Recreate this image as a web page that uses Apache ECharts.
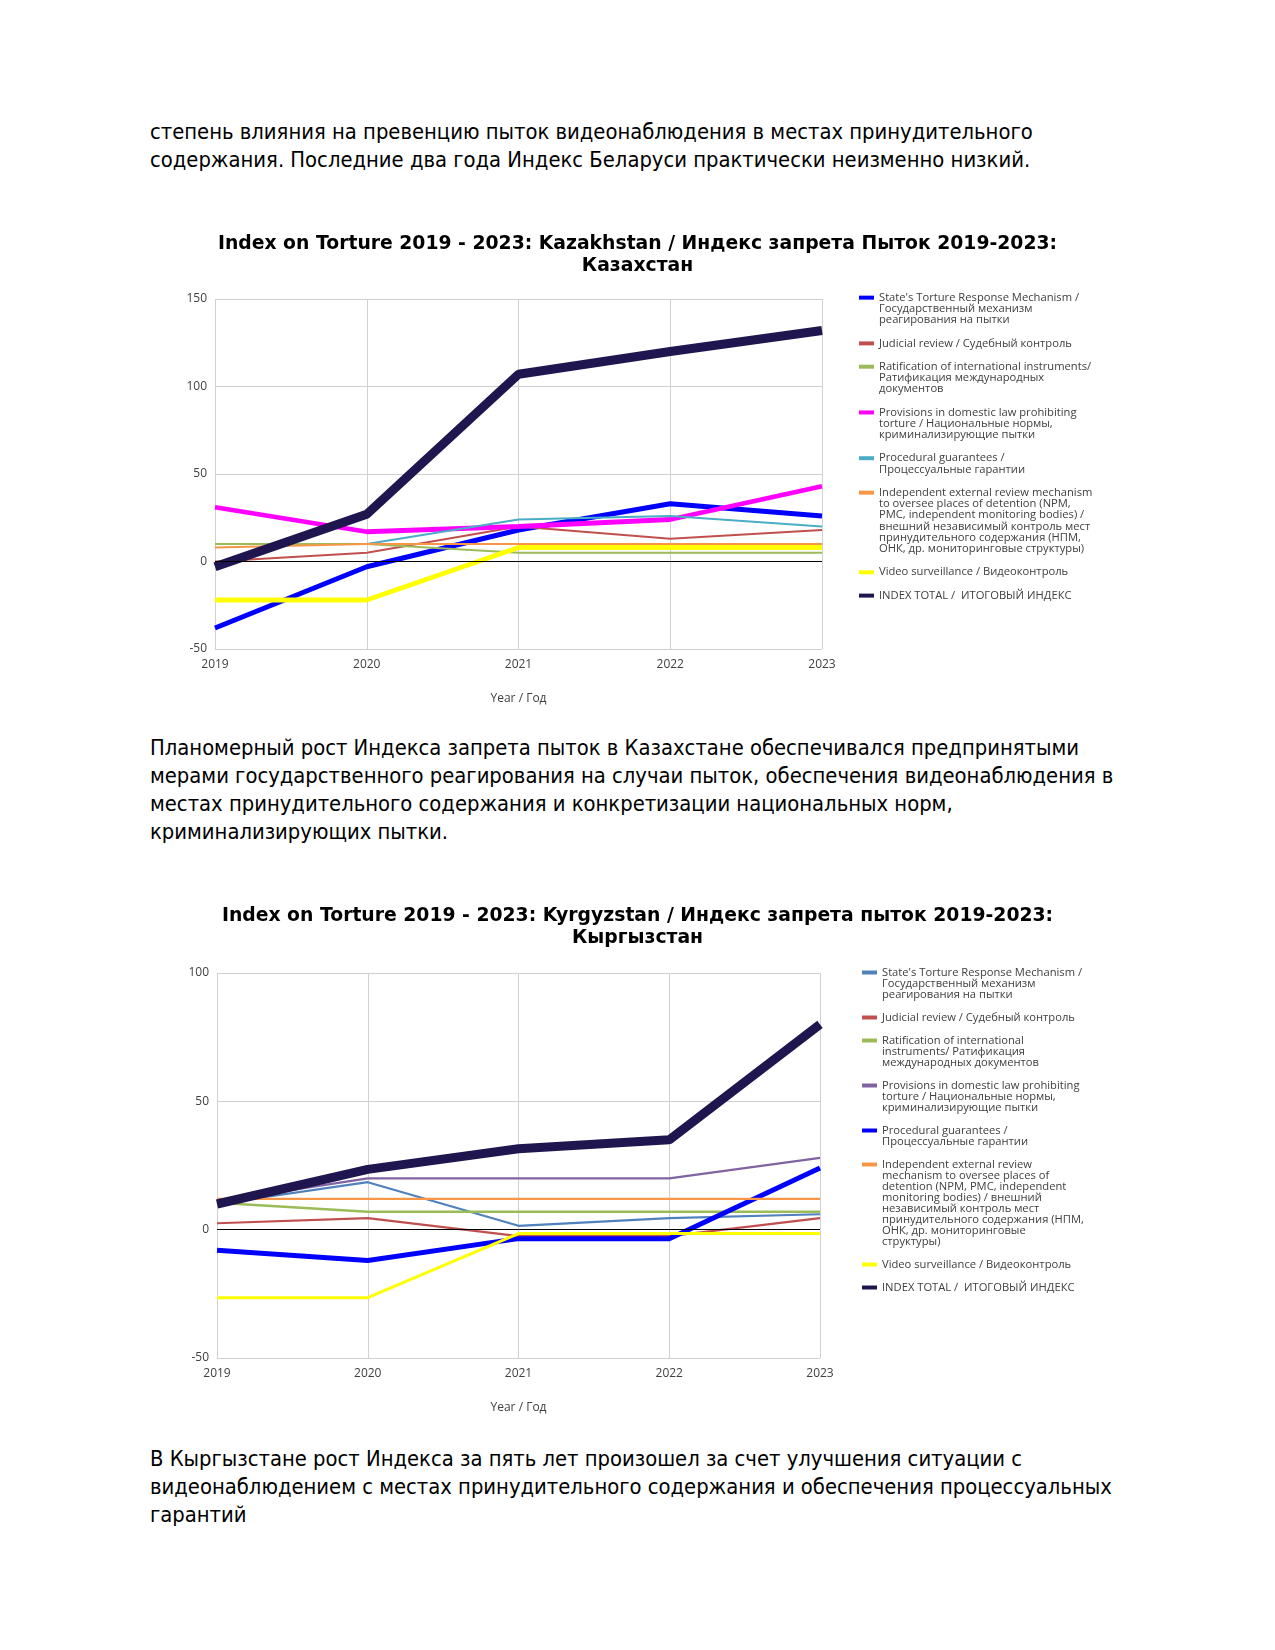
<!DOCTYPE html>
<html>
<head>
<meta charset="utf-8">
<script src="https://cdn.jsdelivr.net/npm/echarts@6/dist/echarts.min.js"></script>
<style>
  html, body { margin: 0; padding: 0; background: #fff; }
  body { width: 1275px; height: 1650px; position: relative; overflow: hidden; }
  .para { position: absolute; left: 150px; font-family: "Liberation Sans Narrow", "Arial Narrow", "DejaVu Sans Condensed", sans-serif; font-size: 21.8px; line-height: 28px; color: #000; white-space: nowrap; }
  .chart { position: absolute; left: 0; width: 1275px; }
</style>
</head>
<body>
<div class="para" style="top:118px;">степень влияния на превенцию пыток видеонаблюдения в местах принудительного<br>содержания. Последние два года Индекс Беларуси практически неизменно низкий.</div>
<div id="c1" class="chart" style="top:190px;height:540px;"></div>
<div class="para" style="top:734px;">Планомерный рост Индекса запрета пыток в Казахстане обеспечивался предпринятыми<br>мерами государственного реагирования на случаи пыток, обеспечения видеонаблюдения в<br>местах принудительного содержания и конкретизации национальных норм,<br>криминализирующих пытки.</div>
<div id="c2" class="chart" style="top:860px;height:570px;"></div>
<div class="para" style="top:1445px;">В Кыргызстане рост Индекса за пять лет произошел за счет улучшения ситуации с<br>видеонаблюдением с местах принудительного содержания и обеспечения процессуальных<br>гарантий</div>
<script>
// ---------- shared ----------
const years = ['2019', '2020', '2021', '2022', '2023'];
const yTicksKz = [-50, 0, 50, 100, 150];
const yTicksKg = [-50, 0, 50, 100];

// ---------- Kazakhstan ----------
const kzTitle = 'Index on Torture 2019 - 2023: Kazakhstan / Индекс запрета Пыток 2019-2023:\nКазахстан';
const kzNames = [
  "State's Torture Response Mechanism /\nГосударственный механизм\nреагирования на пытки",
  "Judicial review / Судебный контроль",
  "Ratification of international instruments/\nРатификация международных\nдокументов",
  "Provisions in domestic law prohibiting\ntorture / Национальные нормы,\nкриминализирующие пытки",
  "Procedural guarantees /\nПроцессуальные гарантии",
  "Independent external review mechanism\nto oversee places of detention (NPM,\nPMC, independent monitoring bodies) /\nвнешний независимый контроль мест\nпринудительного содержания (НПМ,\nОНК, др. мониторинговые структуры)",
  "Video surveillance / Видеоконтроль",
  "INDEX TOTAL /  ИТОГОВЫЙ ИНДЕКС"
];
const kzColors = ['#0000ff', '#c0504d', '#9bbb59', '#ff00ff', '#4bacc6', '#f79646', '#ffff00', '#20164f'];
const kzWidths = [5, 2, 2.2, 4.8, 2, 2.2, 5, 9];
const kzState      = [-38, -3, 18, 33, 26];
const kzJudicial   = [0, 5, 20, 13, 18];
const kzRatif      = [10, 10, 5, 5, 5];
const kzProvisions = [31, 17, 20, 24, 43];
const kzProcedural = [null, 10, 24, 26, 20];
const kzIndependent= [8, 10, 10, 10, 10];
const kzVideo      = [-22, -22, 8, 8, 8];
const kzTotal      = [-3, 27, 107, 120, 132];
const kzData = [kzState, kzJudicial, kzRatif, kzProvisions, kzProcedural, kzIndependent, kzVideo, kzTotal];

// ---------- Kyrgyzstan ----------
const kgTitle = 'Index on Torture 2019 - 2023: Kyrgyzstan / Индекс запрета пыток 2019-2023:\nКыргызстан';
const kgNames = [
  "State's Torture Response Mechanism /\nГосударственный механизм\nреагирования на пытки",
  "Judicial review / Судебный контроль",
  "Ratification of international\ninstruments/ Ратификация\nмеждународных документов",
  "Provisions in domestic law prohibiting\ntorture / Национальные нормы,\nкриминализирующие пытки",
  "Procedural guarantees /\nПроцессуальные гарантии",
  "Independent external review\nmechanism to oversee places of\ndetention (NPM, PMC, independent\nmonitoring bodies) / внешний\nнезависимый контроль мест\nпринудительного содержания (НПМ,\nОНК, др. мониторинговые\nструктуры)",
  "Video surveillance / Видеоконтроль",
  "INDEX TOTAL /  ИТОГОВЫЙ ИНДЕКС"
];
const kgColors = ['#4f81bd', '#c0504d', '#9bbb59', '#8064a2', '#0000ff', '#f79646', '#ffff00', '#20164f'];
const kgWidths = [2.2, 2.2, 2.5, 2.2, 5, 2.2, 3, 9];
const kgState      = [10, 18.5, 1.5, 4.5, 6];
const kgJudicial   = [2.5, 4.5, -2.5, -2.5, 4.5];
const kgRatif      = [10.5, 7, 7, 7, 7];
const kgProvisions = [11, 20, 20, 20, 28];
const kgProcedural = [-8, -12, -3.5, -3.5, 24];
const kgIndependent= [12, 12, 12, 12, 12];
const kgVideo      = [-26.5, -26.5, -1.5, -1.5, -1.5];
const kgTotal      = [10, 23.5, 31.5, 35, 80];
const kgData = [kgState, kgJudicial, kgRatif, kgProvisions, kgProcedural, kgIndependent, kgVideo, kgTotal];

const CHART_FONT = '"Open Sans", "Noto Sans", sans-serif';
const TITLE_FONT = '"DejaVu Sans", Verdana, sans-serif';

function buildOption(cfg) {
  const LH = cfg.lineHeight;
  const legendData = cfg.names.map(function (n) {
    const lines = n.split('\n').length;
    const d = (lines - 1) * LH / 2;
    // shift multi-line text down so its first line sits level with the icon
    return { name: n, textStyle: { padding: [0, 0, -2 * d, 0] } };
  });
  const series = cfg.names.map(function (n, i) {
    const s = {
      name: n,
      type: 'line',
      data: cfg.data[i],
      symbol: 'none',
      showSymbol: false,
      connectNulls: false,
      lineStyle: { color: cfg.colors[i], width: cfg.widths[i] },
      itemStyle: { color: cfg.colors[i] },
      silent: true
    };
    if (i === 0) {
      s.markLine = {
        silent: true,
        symbol: 'none',
        label: { show: false },
        lineStyle: { color: '#000', width: 1, type: 'solid' },
        data: [{ yAxis: 0 }]
      };
    }
    return s;
  });
  return {
    animation: false,
    backgroundColor: '#fff',
    textStyle: { fontFamily: CHART_FONT },
    title: {
      text: cfg.title,
      left: 'center',
      top: cfg.titleTop,
      textStyle: { fontFamily: TITLE_FONT, fontWeight: 'bold', fontSize: 18.8, lineHeight: 22, color: '#000' }
    },
    legend: {
      orient: 'vertical',
      left: cfg.legendLeft,
      top: cfg.legendTop,
      icon: 'rect',
      itemWidth: 15,
      itemHeight: 4,
      itemGap: 12,
      selectedMode: false,
      textStyle: {
        fontFamily: CHART_FONT, fontSize: 11.2, lineHeight: LH, color: '#404040',
        rich: { r: { fontFamily: CHART_FONT, fontSize: 11.2, lineHeight: LH, color: '#404040' } }
      },
      data: legendData
    },
    grid: { left: cfg.grid.left, top: cfg.grid.top, width: cfg.grid.width, height: cfg.grid.height, containLabel: false },
    xAxis: {
      type: 'category',
      data: years,
      boundaryGap: false,
      axisLine: { show: false, onZero: false },
      axisTick: { show: false },
      axisLabel: { fontSize: 12, color: '#404040', margin: 10 },
      splitLine: { show: true, lineStyle: { color: '#d0d0d0', width: 1 } },
      name: 'Year / Год',
      nameLocation: 'middle',
      nameGap: 44,
      nameTextStyle: { fontSize: 12, color: '#404040' }
    },
    yAxis: {
      type: 'value',
      min: cfg.yTicks[0],
      max: cfg.yTicks[cfg.yTicks.length - 1],
      interval: 50,
      axisLine: { show: false },
      axisTick: { show: false },
      axisLabel: { fontSize: 12, color: '#404040', margin: 8 },
      splitLine: { show: true, lineStyle: { color: '#d0d0d0', width: 1 } }
    },
    series: series
  };
}

const c1 = echarts.init(document.getElementById('c1'), null, { renderer: 'canvas' });
c1.setOption(buildOption({
  title: kzTitle, titleTop: 38,
  names: kzNames, colors: kzColors, widths: kzWidths, data: kzData,
  legendLeft: 854, legendTop: 97, lineHeight: 11.3,
  grid: { left: 215, top: 109, width: 607, height: 350 },
  yTicks: yTicksKz
}));

const c2 = echarts.init(document.getElementById('c2'), null, { renderer: 'canvas' });
c2.setOption(buildOption({
  title: kgTitle, titleTop: 40,
  names: kgNames, colors: kgColors, widths: kgWidths, data: kgData,
  legendLeft: 857, legendTop: 102, lineHeight: 11,
  grid: { left: 217, top: 113, width: 603, height: 385 },
  yTicks: yTicksKg
}));
</script>
</body>
</html>
